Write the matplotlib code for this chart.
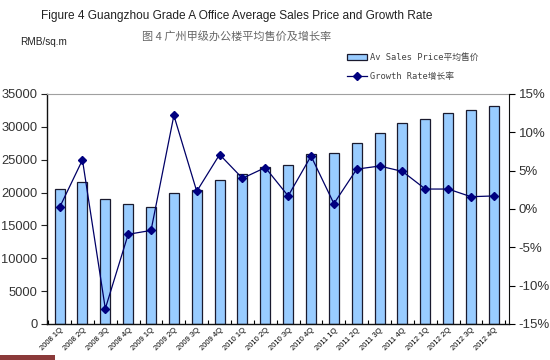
import matplotlib
matplotlib.use("Agg")
import matplotlib.pyplot as plt
from matplotlib.patches import Rectangle
from matplotlib.ticker import FuncFormatter

plt.rcParams['font.family'] = ['Liberation Sans', 'Noto Sans CJK SC', 'DejaVu Sans']

quarters = ['2008 1Q', '2008 2Q', '2008 3Q', '2008 4Q',
            '2009 1Q', '2009 2Q', '2009 3Q', '2009 4Q',
            '2010 1Q', '2010 2Q', '2010 3Q', '2010 4Q',
            '2011 1Q', '2011 2Q', '2011 3Q', '2011 4Q',
            '2012 1Q', '2012 2Q', '2012 3Q', '2012 4Q']
price = [20500, 21650, 18950, 18250, 17800, 19900, 20400, 21950, 22800, 23900,
         24150, 25900, 26000, 27500, 29000, 30600, 31150, 32050, 32600, 33100]
growth = [0.2, 6.4, -13.0, -3.3, -2.8, 12.2, 2.3, 7.1, 4.0, 5.4,
          1.7, 6.9, 0.7, 5.2, 5.6, 4.9, 2.6, 2.6, 1.6, 1.7]

fig = plt.figure(figsize=(5.5, 3.6), dpi=100)
ax = fig.add_axes([0.0855, 0.1, 0.8395, 0.639])
x = list(range(len(quarters)))

bars = ax.bar(x, price, width=0.44, color='#99ccff', edgecolor='#1a1a2e', linewidth=0.9,
              label='Av Sales Price平均售价')
ax.set_ylim(0, 35000)
ax.set_yticks(range(0, 35001, 5000))
ax.set_xlim(-0.55, 19.65)
ax.set_xticks(x)
ax.set_xticklabels(quarters, rotation=45, ha='right', rotation_mode='anchor', fontsize=5.5)
ax.set_xticks([i + 0.5 for i in range(-1, 20)], minor=True)
ax.tick_params(axis='x', which='major', length=0, pad=2)
ax.tick_params(axis='x', which='minor', length=3, direction='in', width=0.8)
ax.tick_params(axis='y', labelsize=9.3, length=4, pad=3, colors='#222222', labelcolor='#333333')

ax.spines['top'].set_color('#a0a0a0')
ax.spines['right'].set_visible(False)
for s in ['left', 'bottom']:
    ax.spines[s].set_color('#111111')
    ax.spines[s].set_linewidth(1.0)

ax2 = ax.twinx()
line, = ax2.plot(x, growth, color='#000066', linewidth=0.9, marker='D', markersize=4,
                 markerfacecolor='#000080', markeredgecolor='#000080', label='Growth Rate增长率')
ax2.set_ylim(-15, 15)
ax2.set_yticks(range(-15, 16, 5))
ax2.yaxis.set_major_formatter(FuncFormatter(lambda v, p: '%d%%' % v))
ax2.tick_params(axis='y', labelsize=9.5, length=4, pad=3, labelcolor='#333333')
for s in ['top', 'left', 'bottom']:
    ax2.spines[s].set_visible(False)
ax2.spines['right'].set_color('#111111')

fig.text(0.43, 0.955, 'Figure 4 Guangzhou Grade A Office Average Sales Price and Growth Rate',
         ha='center', va='center', fontsize=8.6, color='#222222')
fig.text(0.43, 0.9, '图 4 广州甲级办公楼平均售价及增长率', ha='center', va='center',
         fontsize=8, color='#666666', family=['Noto Sans CJK SC', 'DejaVu Sans'])
fig.text(0.037, 0.882, 'RMB/sq.m', ha='left', va='center', fontsize=7.2, color='#222222')

leg = fig.legend(handles=[bars, line], loc='upper left', bbox_to_anchor=(0.617, 0.875),
                 frameon=False, labelspacing=1.2, handlelength=2.3, handletextpad=0.3,
                 prop={'family': ['DejaVu Sans Mono', 'Noto Sans CJK SC'], 'size': 6.3})
for t in leg.get_texts():
    t.set_color('#444444')

# dark red strip at the bottom-left corner of the screenshot
fig.patches.append(Rectangle((0, 0), 0.1, 0.015, transform=fig.transFigure,
                             facecolor='#8b3a3a', edgecolor='none'))

fig.savefig('out.png', dpi=100)
